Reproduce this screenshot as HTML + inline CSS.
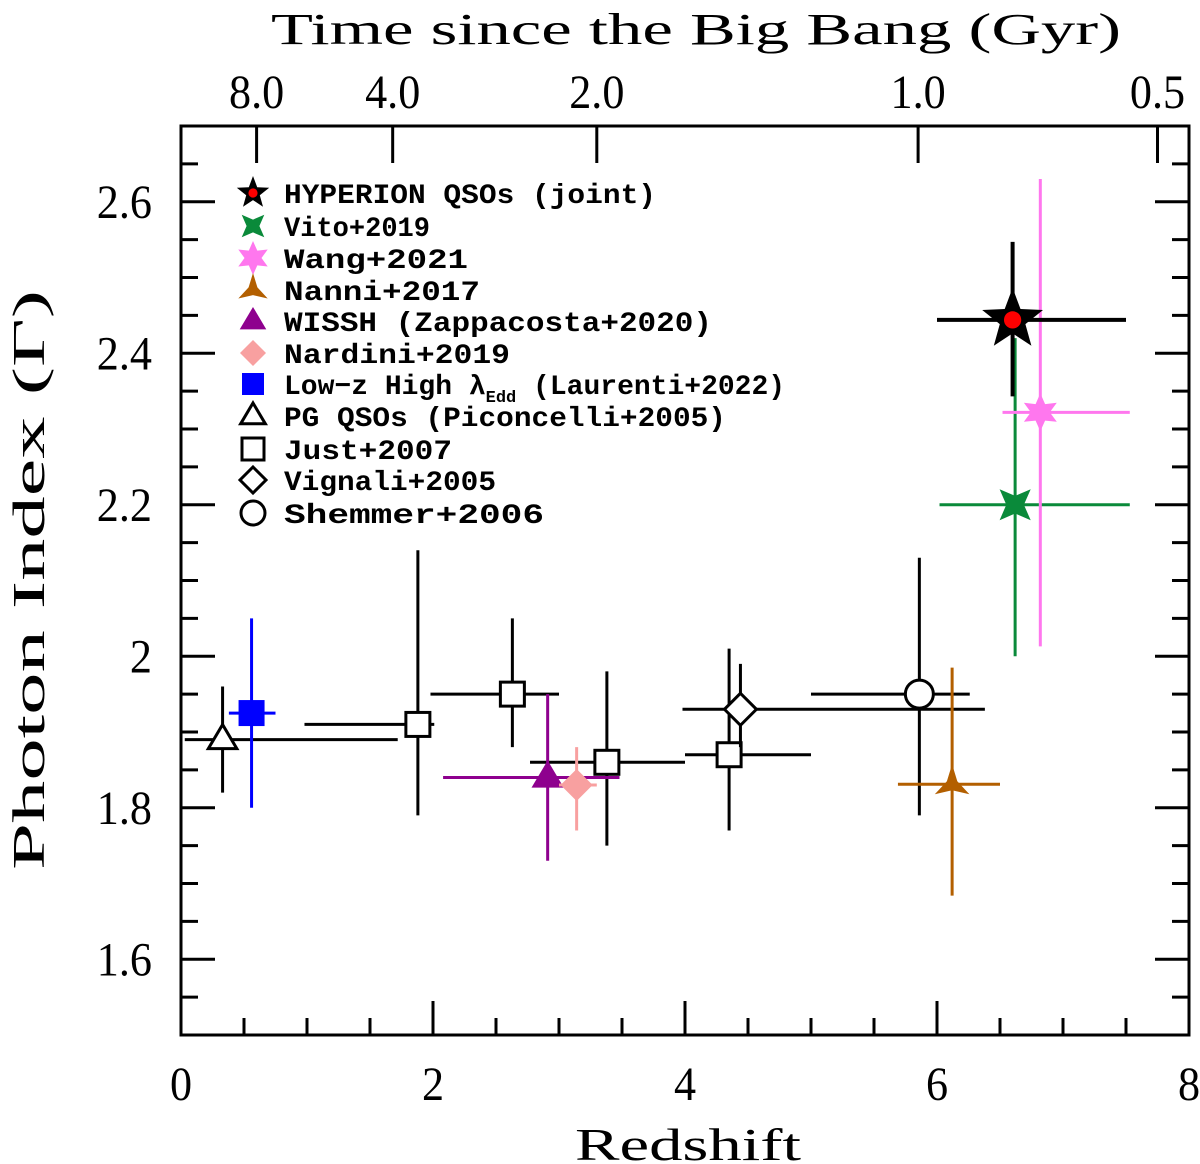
<!DOCTYPE html>
<html><head><meta charset="utf-8"><style>
html,body{margin:0;padding:0;background:#fff;}
svg{display:block;}
</style></head><body>
<svg id="chart" width="1200" height="1164" viewBox="0 0 1200 1164" xmlns="http://www.w3.org/2000/svg">
<g id="axes"></g>
<g id="points"></g>
<g id="legend"></g>
<text x="688" y="1160" text-anchor="middle" font-family="Liberation Serif, serif" font-size="46" textLength="226" lengthAdjust="spacingAndGlyphs">Redshift</text>
<text transform="translate(44,580) rotate(-90)" text-anchor="middle" font-family="Liberation Serif, serif" font-size="46" textLength="580" lengthAdjust="spacingAndGlyphs">Photon Index (Γ)</text>
<text x="696" y="44" text-anchor="middle" font-family="Liberation Serif, serif" font-size="44" textLength="850" lengthAdjust="spacingAndGlyphs">Time since the Big Bang (Gyr)</text>
</svg>
<script>
// ---- data ----
const seriesNames = ["HYPERION QSOs (joint)","Vito+2019","Wang+2021","Nanni+2017","WISSH (Zappacosta+2020)","Nardini+2019","Low-z High λEdd (Laurenti+2022)","PG QSOs (Piconcelli+2005)","Just+2007","Vignali+2005","Shemmer+2006"];
const hypZ=[6.6], hypG=[2.444], hypZlo=[6.0], hypZhi=[7.5], hypGlo=[2.343], hypGhi=[2.547];
const vitoZ=[6.62], vitoG=[2.2], vitoZlo=[6.02], vitoZhi=[7.53], vitoGlo=[2.0], vitoGhi=[2.42];
const wangZ=[6.82], wangG=[2.322], wangZlo=[6.52], wangZhi=[7.53], wangGlo=[2.013], wangGhi=[2.63];
const nanniZ=[6.12], nanniG=[1.831], nanniZlo=[5.69], nanniZhi=[6.5], nanniGlo=[1.684], nanniGhi=[1.985];
const wisshZ=[2.91], wisshG=[1.84], wisshZlo=[2.08], wisshZhi=[3.48], wisshGlo=[1.73], wisshGhi=[1.95];
const nardZ=[3.14], nardG=[1.83], nardZlo=[3.0], nardZhi=[3.3], nardGlo=[1.77], nardGhi=[1.88];
const laurZ=[0.56], laurG=[1.925], laurZlo=[0.38], laurZhi=[0.75], laurGlo=[1.80], laurGhi=[2.05];
const pgZ=[0.33], pgG=[1.89], pgZlo=[0.03], pgZhi=[1.72], pgGlo=[1.82], pgGhi=[1.96];
const justZ=[1.88,2.63,3.38,4.35], justG=[1.91,1.95,1.86,1.87], justZlo=[0.98,1.98,2.77,4.0], justZhi=[2.01,3.0,4.0,5.0], justGlo=[1.79,1.88,1.75,1.77], justGhi=[2.14,2.05,1.98,2.01];
const vigZ=[4.44], vigG=[1.93], vigZlo=[3.98], vigZhi=[6.38], vigGlo=[1.88], vigGhi=[1.99];
const shemZ=[5.86], shemG=[1.95], shemZlo=[5.0], shemZhi=[6.26], shemGlo=[1.79], shemGhi=[2.13];
const xTickLabels=["0","2","4","6","8"];
const yTickLabels=["1.6","1.8","2","2.2","2.4","2.6"];
const topTickLabels=["8.0","4.0","2.0","1.0","0.5"];
const topTickZ=[0.6,1.68,3.3,5.85,7.75];

// ---- scales ----
const X0=181,X1=1189,Y0=1035,Y1=126;
const xs=z=>X0+(z-0)/8*(X1-X0);
const ys=g=>Y0-(g-1.5)/1.2*(Y0-Y1);
const NS="http://www.w3.org/2000/svg";
function mk(tag,attrs,parent){const e=document.createElementNS(NS,tag);for(const k in attrs)e.setAttribute(k,attrs[k]);parent.appendChild(e);return e;}
const axes=document.getElementById('axes'),pts=document.getElementById('points'),leg=document.getElementById('legend');
function lbl(x,y,s,anchor){const t=mk('text',{x:0,y:0,'text-anchor':anchor,'font-family':'Liberation Serif, serif','font-size':48,transform:`translate(${x},${y}) scale(0.92,1)`},axes);t.textContent=s;return t;}

// frame
const fr=mk('rect',{x:X0,y:Y1,width:X1-X0,height:Y0-Y1,fill:'none',stroke:'#000','stroke-width':3},axes);


// x ticks
for(let i=0;i<=16;i++){const z=i*0.5,x=xs(z),L=(i%4===0)?34:17;
 const t=mk('line',{x1:x,x2:x,y1:Y0,y2:Y0-L,stroke:'#000','stroke-width':3},axes);
 
 }
xTickLabels.forEach((s,i)=>{const t=lbl(xs(i*2),1100,s,'middle');
 
 });
// y ticks
for(let i=0;i<=24;i++){const g=1.5+i*0.05,y=ys(g),L=(i%4===2)?34:17;
 const a=mk('line',{x1:X0,x2:X0+L,y1:y,y2:y,stroke:'#000','stroke-width':3},axes);
 
 
 const b=mk('line',{x1:X1,x2:X1-L,y1:y,y2:y,stroke:'#000','stroke-width':3},axes);
 
 }
yTickLabels.forEach((s,i)=>{const g=1.6+i*0.2;const t=lbl(152,ys(g)+16,s,'end');
 
 });
// top ticks
topTickLabels.forEach((s,i)=>{const x=xs(topTickZ[i]);
 const l=mk('line',{x1:x,x2:x,y1:Y1,y2:Y1+37,stroke:'#000','stroke-width':3},axes);
 
 
 const t=lbl(x,108,s,'middle');
 
 });

// marker shapes
function starPts(cx,cy,n,R,r,rot){let p=[];for(let i=0;i<2*n;i++){const a=rot+Math.PI*i/n;const rr=i%2?r:R;p.push((cx+rr*Math.sin(a)).toFixed(1)+','+(cy-rr*Math.cos(a)).toFixed(1));}return p.join(' ');}
function marker(kind,cx,cy,s,parent,name){let e;
 switch(kind){
 case 'hyp': e=mk('g',{},parent);mk('polygon',{points:starPts(cx,cy,5,s,s*0.42,0),fill:'#000'},e);mk('circle',{cx:cx,cy:cy,r:s*0.27,fill:'#f00'},e);break;
 case 'vito': e=mk('polygon',{points:starPts(cx,cy,4,s,s*0.4,Math.PI/4),fill:'#0a8a3a'},parent);break;
 case 'wang': e=mk('polygon',{points:starPts(cx,cy,6,s,s*0.5,0),fill:'#ff77ee'},parent);break;
 case 'nanni': e=mk('polygon',{points:starPts(cx,cy,3,s,s*0.3,0),fill:'#b35f00'},parent);break;
 case 'wissh': e=mk('polygon',{points:`${cx},${cy-s} ${cx+s*0.95},${cy+s*0.6} ${cx-s*0.95},${cy+s*0.6}`,fill:'#8e008e'},parent);break;
 case 'nard': e=mk('polygon',{points:`${cx},${cy-s} ${cx+s},${cy} ${cx},${cy+s} ${cx-s},${cy}`,fill:'#f8a0a0'},parent);break;
 case 'laur': e=mk('rect',{x:cx-s,y:cy-s,width:2*s,height:2*s,fill:'#0000ff'},parent);break;
 case 'pg': e=mk('polygon',{points:`${cx},${cy-s} ${cx+s*0.95},${cy+s*0.6} ${cx-s*0.95},${cy+s*0.6}`,fill:'#fff',stroke:'#000','stroke-width':3},parent);break;
 case 'just': e=mk('rect',{x:cx-s,y:cy-s,width:2*s,height:2*s,fill:'#fff',stroke:'#000','stroke-width':3},parent);break;
 case 'vig': e=mk('polygon',{points:`${cx},${cy-s} ${cx+s},${cy} ${cx},${cy+s} ${cx-s},${cy}`,fill:'#fff',stroke:'#000','stroke-width':3},parent);break;
 case 'shem': e=mk('circle',{cx:cx,cy:cy,r:s,fill:'#fff',stroke:'#000','stroke-width':3},parent);break;
 }
 
 
 return e;}

function series(kind,name,color,sw,Z,G,Zlo,Zhi,Glo,Ghi,size){
 const g=mk('g',{},pts);
 
 
 Z.forEach((z,i)=>{
  const h=mk('line',{x1:xs(Zlo[i]),x2:xs(Zhi[i]),y1:ys(G[i]),y2:ys(G[i]),stroke:color,'stroke-width':sw},g);
  
  
  const v=mk('line',{x1:xs(z),x2:xs(z),y1:ys(Glo[i]),y2:ys(Ghi[i]),stroke:color,'stroke-width':sw},g);
  
  
 });
 Z.forEach((z,i)=>marker(kind,xs(z),ys(G[i]),size,g,name+'-point'));
}
series('pg','pg-qsos','#000',3,pgZ,pgG,pgZlo,pgZhi,pgGlo,pgGhi,15);
series('laur','laurenti','#0000ff',3,laurZ,laurG,laurZlo,laurZhi,laurGlo,laurGhi,13);
series('just','just-2007','#000',3,justZ,justG,justZlo,justZhi,justGlo,justGhi,12);
series('vig','vignali-2005','#000',3,vigZ,vigG,vigZlo,vigZhi,vigGlo,vigGhi,16);
series('shem','shemmer-2006','#000',3,shemZ,shemG,shemZlo,shemZhi,shemGlo,shemGhi,14);
series('wissh','wissh','#8e008e',3,wisshZ,wisshG,wisshZlo,wisshZhi,wisshGlo,wisshGhi,17);
series('nard','nardini-2019','#f8a0a0',3,nardZ,nardG,nardZlo,nardZhi,nardGlo,nardGhi,16);
series('nanni','nanni-2017','#b35f00',3,nanniZ,nanniG,nanniZlo,nanniZhi,nanniGlo,nanniGhi,20);
series('vito','vito-2019','#0a8a3a',3,vitoZ,vitoG,vitoZlo,vitoZhi,vitoGlo,vitoGhi,22);
series('wang','wang-2021','#ff77ee',3,wangZ,wangG,wangZlo,wangZhi,wangGlo,wangGhi,19);
series('hyp','hyperion','#000',4,hypZ,hypG,hypZlo,hypZhi,hypGlo,hypGhi,32);

// legend
const legKinds=['hyp','vito','wang','nanni','wissh','nard','laur','pg','just','vig','shem'];
const legY=[193,226,258,290,321,353,384,416,449,480,513];
const legSize=[17,16,17,17,14,13,11,13,11,13,12];
const legW=[372,146,184,196,428,226,0,442,168,212,260];
legKinds.forEach((k,i)=>{
 marker(k,253,legY[i],legSize[i],leg,'legend-marker');
 const t=mk('text',{x:284,y:legY[i]+10,'font-family':'Liberation Mono, monospace','font-weight':'bold','font-size':28},leg);
 if(k==='laur'){
  t.appendChild(document.createTextNode('Low−z High λ'));
  const sub=mk('tspan',{'font-size':17,dy:8},t);sub.textContent='Edd';
  const rest=mk('tspan',{dy:-8},t);rest.textContent=' (Laurenti+2022)';
 } else {
  t.textContent=seriesNames[i];
  t.setAttribute('textLength',legW[i]);
  t.setAttribute('lengthAdjust','spacingAndGlyphs');
 }
 
 
});
</script>
</body></html>
